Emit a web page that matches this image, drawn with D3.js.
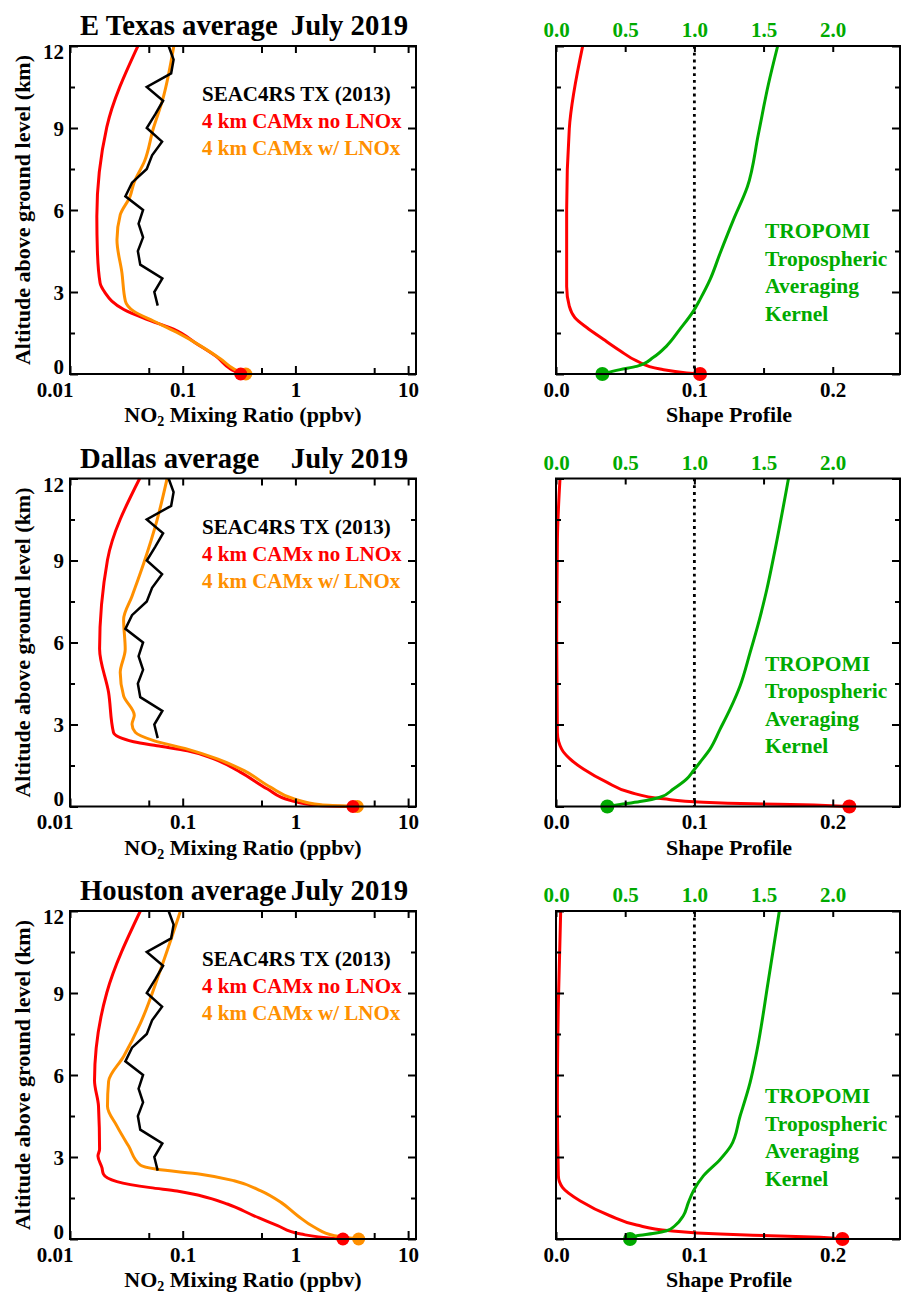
<!DOCTYPE html>
<html>
<head>
<meta charset="utf-8">
<script src="https://cdn.jsdelivr.net/npm/d3@7/dist/d3.min.js"></script>
<style>
  html, body { margin: 0; padding: 0; background: #fff; }
  svg { display: block; }
  text { font-family: "Liberation Serif", "Times New Roman", serif; font-weight: bold; }
</style>
</head>
<body>
<svg id="chart" width="901" height="1294"></svg>
<script>
// ---------------- DATA ----------------
const regionNames = ["E Texas average", "Dallas average", "Houston average"];
const monthLabel = "July 2019";
const legendLabels = ["SEAC4RS TX (2013)", "4 km CAMx no LNOx", "4 km CAMx w/ LNOx"];
const akLabel = ["TROPOMI", "Tropospheric", "Averaging", "Kernel"];
const mixTicks = [0.01, 0.1, 1, 10];
const mixTickLabels = ["0.01", "0.1", "1", "10"];
const mixMinorTicks = [0.05, 0.5, 5];
const altTicks = [0, 3, 6, 9, 12];
const altMinorTicks = [1.5, 4.5, 7.5, 10.5];
const shapeTicks = [0, 0.1, 0.2];
const shapeMinorTicks = [0.05, 0.15];
const akTicks = [0, 0.5, 1.0, 1.5, 2.0];

// SEAC4RS observed profile [altitude km, NO2 ppbv] (same in all panels)
const seac4rs = [[2.5,0.060],[3,0.056],[3.5,0.066],[4,0.042],[4.5,0.040],[5,0.0445],[5.5,0.0406],[6,0.0445],
  [6.5,0.031],[7,0.0355],[7.5,0.048],[8,0.0535],[8.5,0.0656],[9,0.048],[9.5,0.057],[10,0.067],
  [10.5,0.048],[11,0.079],[11.5,0.083],[12,0.075]];

// CAMx profiles [altitude km, NO2 ppbv]
const etxNoLnox = [[0,0.327],[0.18,0.267],[0.61,0.203],[1.09,0.135],[1.64,0.083],[2.0,0.048],[2.36,0.030],
  [2.67,0.0235],[2.97,0.0205],[3.33,0.0185],[4.5,0.0175],[5.76,0.0173],[9.03,0.0212],[12,0.040]];
const etxWLnox = [[0,0.363],[0.18,0.286],[0.55,0.217],[1.03,0.144],[1.52,0.089],[1.94,0.055],[2.30,0.0367],
  [2.67,0.031],[3.70,0.0289],[4.91,0.0261],[5.82,0.0279],[6.48,0.034],[7.0,0.037],[7.8,0.046],[9.0,0.055],
  [10.0,0.066],[12,0.0834]];
const dalNoLnox = [[0,3.24],[0.04,1.58],[0.22,0.914],[0.64,0.566],[1.25,0.327],[1.74,0.189],[2.04,0.110],
  [2.22,0.059],[2.37,0.0367],[2.71,0.0243],[4.17,0.0220],[5.77,0.0183],[9.02,0.0215],[12,0.0415]];
const dalWLnox = [[0,3.54],[0.06,1.69],[0.28,0.978],[0.70,0.606],[1.31,0.351],[1.74,0.203],[2.10,0.110],
  [2.41,0.0553],[2.71,0.038],[3.01,0.0355],[3.34,0.0372],[4.05,0.0299],[4.9,0.0279],[5.75,0.0309],
  [6.84,0.0299],[7.69,0.0355],[8.9,0.0451],[10.48,0.0592],[12,0.0727]];
const houNoLnox = [[0,2.64],[0.02,2.22],[0.18,1.12],[0.49,0.695],[0.85,0.430],[1.28,0.249],[1.58,0.144],
  [1.76,0.089],[1.88,0.0517],[2.10,0.0261],[2.37,0.0198],[2.61,0.0192],[3.04,0.0177],[3.28,0.0183],
  [4.86,0.0179],[5.8,0.0165],[9.01,0.0212],[12,0.0421]];
const houWLnox = [[0,3.64],[0.12,2.22],[0.43,1.475],[0.85,1.047],[1.34,0.745],[1.76,0.494],[2.13,0.286],
  [2.37,0.144],[2.55,0.059],[2.70,0.0421],[3.40,0.0331],[4.13,0.0261],[4.86,0.0215],[5.77,0.0220],
  [6.68,0.0299],[7.89,0.0421],[9.84,0.0634],[12,0.0955]];

// Shape profiles [altitude km, shape]
const etxShape = [[0,0.1041],[0.04,0.0945],[0.18,0.0752],[0.48,0.0583],[0.85,0.0463],[1.27,0.0342],
  [1.70,0.0222],[2.06,0.0137],[2.48,0.0096],[3.2,0.0077],[6.0,0.0077],[8.97,0.0096],[12,0.0193]];
const dalShape = [[0,0.212],[0.06,0.1788],[0.10,0.1427],[0.16,0.1065],[0.28,0.0776],[0.52,0.0535],
  [0.89,0.0366],[1.37,0.0198],[1.74,0.0101],[2.1,0.0041],[2.71,0.001],[6.1,0.0005],[9.75,0.001],[12,0.0029]];
const houShape = [[0,0.207],[0.06,0.1908],[0.12,0.1547],[0.18,0.1186],[0.30,0.0824],[0.51,0.0583],
  [0.85,0.039],[1.40,0.0173],[1.88,0.0048],[2.31,0.0017],[4.98,0.001],[8.62,0.0017],[12,0.0034]];

// TROPOMI tropospheric averaging kernel [altitude km, AK]
const etxAK = [[0,0.335],[0.16,0.463],[0.28,0.583],[0.61,0.704],[1.03,0.800],[1.64,0.896],[2.30,0.993],
  [2.73,1.041],[3.45,1.113],[4.42,1.186],[5.64,1.282],[6.85,1.383],[8.79,1.463],[10.6,1.535],[12,1.602]];
const dalAK = [[0,0.371],[0.07,0.463],[0.18,0.607],[0.34,0.752],[0.64,0.848],[1.01,0.945],[1.31,0.993],
  [1.62,1.041],[2.10,1.113],[2.83,1.186],[3.56,1.258],[4.41,1.330],[5.62,1.402],[6.84,1.470],
  [7.93,1.523],[9.39,1.583],[12,1.680]];
const houAK = [[0,0.535],[0.12,0.585],[0.20,0.700],[0.30,0.800],[0.49,0.860],[0.85,0.920],[1.34,0.957],
  [1.76,0.993],[2.31,1.065],[2.91,1.186],[3.40,1.263],[4.49,1.330],[5.71,1.402],[6.86,1.451],
  [9.47,1.535],[12,1.614]];

// ---------------- DRAW ----------------
const RED = "#ff0000", ORANGE = "#ff9000", GREEN = "#00aa00", BLACK = "#000";
const panels = [
  {name: regionNames[0], noL: etxNoLnox, wL: etxWLnox, shape: etxShape, ak: etxAK},
  {name: regionNames[1], noL: dalNoLnox, wL: dalWLnox, shape: dalShape, ak: dalAK},
  {name: regionNames[2], noL: houNoLnox, wL: houWLnox, shape: houShape, ak: houAK}
];

const svg = d3.select("#chart");
const LX0 = 70, LX1 = 416, RX0 = 556, RX1 = 900;
const PH = 328;
const TICKFS = 21;

const xMix = d3.scaleLog().domain([0.01, 11.75]).range([LX0, LX1]);
const xShape = d3.scaleLinear().domain([0, 0.2486]).range([RX0, RX1]);
const xAK = d3.scaleLinear().domain([0, 2.486]).range([RX0, RX1]);

function styleAxis(g, color) {
  g.select(".domain").remove();
  g.selectAll(".tick line").attr("stroke", BLACK).attr("stroke-width", 2);
  g.selectAll(".tick text").attr("fill", color || BLACK).attr("font-size", TICKFS)
    .attr("font-family", "Liberation Serif, Times New Roman, serif").attr("font-weight", "bold");
  g.attr("font-family", null).attr("font-size", null);
}

panels.forEach((p, i) => {
  const top = 46 + i * 432.5, bot = top + PH;
  const y = d3.scaleLinear().domain([0, 12]).range([bot, top]);
  const g = svg.append("g");

  // ---------- LEFT PANEL ----------
  g.append("text").attr("x", 80).attr("y", top - 11).attr("font-size", 28.7).text(p.name);
  g.append("text").attr("x", 408).attr("y", top - 11).attr("font-size", 28.7)
    .attr("text-anchor", "end").text(monthLabel);

  const line = (xs) => d3.line().x(d => xs(d[1])).y(d => y(d[0])).curve(d3.curveMonotoneY);

  g.append("path").datum(p.noL).attr("d", line(xMix)).attr("fill", "none")
    .attr("stroke", RED).attr("stroke-width", 3);
  g.append("path").datum(p.wL).attr("d", line(xMix)).attr("fill", "none")
    .attr("stroke", ORANGE).attr("stroke-width", 3);
  g.append("path").datum(seac4rs)
    .attr("d", d3.line().x(d => xMix(d[1])).y(d => y(d[0])))
    .attr("fill", "none").attr("stroke", BLACK).attr("stroke-width", 2.5).attr("stroke-linejoin", "miter");
  g.append("circle").attr("cx", xMix(p.wL[0][1])).attr("cy", y(p.wL[0][0])).attr("r", 6.5).attr("fill", ORANGE);
  g.append("circle").attr("cx", xMix(p.noL[0][1])).attr("cy", y(p.noL[0][0])).attr("r", 6.5).attr("fill", RED);

  g.append("rect").attr("x", LX0).attr("y", top).attr("width", LX1 - LX0).attr("height", PH)
    .attr("fill", "none").attr("stroke", BLACK).attr("stroke-width", 2);

  const bx = g.append("g").attr("transform", `translate(0,${bot})`)
    .call(d3.axisBottom(xMix).tickValues(mixTicks).tickFormat((d, k) => mixTickLabels[k])
      .tickSizeInner(-8).tickSizeOuter(0).tickPadding(8));
  styleAxis(bx);
  bx.selectAll(".tick text").filter((d, k) => k === 0).attr("text-anchor", "end").attr("x", 3);
  const bxm = g.append("g").attr("transform", `translate(0,${bot})`)
    .call(d3.axisBottom(xMix).tickValues(mixMinorTicks).tickFormat("").tickSizeInner(-6).tickSizeOuter(0));
  styleAxis(bxm);
  const tx = g.append("g").attr("transform", `translate(0,${top})`)
    .call(d3.axisTop(xMix).tickValues(mixTicks.concat(mixMinorTicks)).tickFormat("").tickSizeInner(-7).tickSizeOuter(0));
  styleAxis(tx);

  const ly = g.append("g").attr("transform", `translate(${LX0},0)`)
    .call(d3.axisLeft(y).tickValues(altTicks).tickFormat(d3.format("d")).tickSizeInner(-8).tickSizeOuter(0).tickPadding(6));
  styleAxis(ly);
  ly.selectAll(".tick text").attr("dy", d => d === 12 ? "0.6em" : (d === 0 ? "-0.04em" : "0.35em"));
  const lym = g.append("g").attr("transform", `translate(${LX0},0)`)
    .call(d3.axisLeft(y).tickValues(altMinorTicks).tickFormat("").tickSizeInner(-5).tickSizeOuter(0));
  styleAxis(lym);
  const ry = g.append("g").attr("transform", `translate(${LX1},0)`)
    .call(d3.axisRight(y).tickValues(altTicks).tickFormat("").tickSizeInner(-8).tickSizeOuter(0));
  styleAxis(ry);
  const rym = g.append("g").attr("transform", `translate(${LX1},0)`)
    .call(d3.axisRight(y).tickValues(altMinorTicks).tickFormat("").tickSizeInner(-5).tickSizeOuter(0));
  styleAxis(rym);

  const xt = g.append("text").attr("x", (LX0 + LX1) / 2).attr("y", bot + 48).attr("font-size", 22)
    .attr("text-anchor", "middle");
  xt.append("tspan").text("NO");
  xt.append("tspan").attr("font-size", 14).attr("dy", 4).text("2");
  xt.append("tspan").attr("dy", -4).text(" Mixing Ratio (ppbv)");
  g.append("text").attr("transform", `translate(30,${(top + bot) / 2}) rotate(-90)`)
    .attr("text-anchor", "middle").attr("font-size", 22).text("Altitude above ground level (km)");

  const legColors = [BLACK, RED, ORANGE];
  legendLabels.forEach((t, k) => {
    g.append("text").attr("x", 202).attr("y", top + 55 + k * 27).attr("font-size", 21)
      .attr("fill", legColors[k]).text(t);
  });

  // ---------- RIGHT PANEL ----------
  g.append("line").attr("x1", xAK(1.0)).attr("x2", xAK(1.0)).attr("y1", top).attr("y2", bot)
    .attr("stroke", BLACK).attr("stroke-width", 2.8).attr("stroke-dasharray", "2.8,4");
  g.append("path").datum(p.shape).attr("d", line(xShape)).attr("fill", "none")
    .attr("stroke", RED).attr("stroke-width", 3);
  g.append("path").datum(p.ak).attr("d", line(xAK)).attr("fill", "none")
    .attr("stroke", GREEN).attr("stroke-width", 3);
  g.append("circle").attr("cx", xAK(p.ak[0][1])).attr("cy", y(p.ak[0][0])).attr("r", 7).attr("fill", GREEN);
  g.append("circle").attr("cx", xShape(p.shape[0][1])).attr("cy", y(p.shape[0][0])).attr("r", 7).attr("fill", RED);

  g.append("rect").attr("x", RX0).attr("y", top).attr("width", RX1 - RX0).attr("height", PH)
    .attr("fill", "none").attr("stroke", BLACK).attr("stroke-width", 2);

  const sb = g.append("g").attr("transform", `translate(0,${bot})`)
    .call(d3.axisBottom(xShape).tickValues(shapeTicks).tickFormat(d3.format(".1f"))
      .tickSizeInner(-7).tickSizeOuter(0).tickPadding(8));
  styleAxis(sb);
  const sbm = g.append("g").attr("transform", `translate(0,${bot})`)
    .call(d3.axisBottom(xShape).tickValues(shapeMinorTicks).tickFormat("").tickSizeInner(-6).tickSizeOuter(0));
  styleAxis(sbm);
  const at = g.append("g").attr("transform", `translate(0,${top})`)
    .call(d3.axisTop(xAK).tickValues(akTicks).tickFormat(d3.format(".1f"))
      .tickSizeInner(-6).tickSizeOuter(0).tickPadding(9));
  styleAxis(at, GREEN);
  const rl = g.append("g").attr("transform", `translate(${RX0},0)`)
    .call(d3.axisLeft(y).tickValues(altTicks).tickFormat("").tickSizeInner(-8).tickSizeOuter(0));
  styleAxis(rl);
  const rlm = g.append("g").attr("transform", `translate(${RX0},0)`)
    .call(d3.axisLeft(y).tickValues(altMinorTicks).tickFormat("").tickSizeInner(-5).tickSizeOuter(0));
  styleAxis(rlm);
  const rr = g.append("g").attr("transform", `translate(${RX1},0)`)
    .call(d3.axisRight(y).tickValues(altTicks).tickFormat("").tickSizeInner(-8).tickSizeOuter(0));
  styleAxis(rr);
  const rrm = g.append("g").attr("transform", `translate(${RX1},0)`)
    .call(d3.axisRight(y).tickValues(altMinorTicks).tickFormat("").tickSizeInner(-5).tickSizeOuter(0));
  styleAxis(rrm);

  g.append("text").attr("x", (RX0 + 902) / 2).attr("y", bot + 48).attr("font-size", 22)
    .attr("text-anchor", "middle").text("Shape Profile");

  akLabel.forEach((t, k) => {
    g.append("text").attr("x", 765).attr("y", top + 192 + k * 27.5).attr("font-size", 21.5)
      .attr("fill", GREEN).text(t);
  });
});
</script>
</body>
</html>
